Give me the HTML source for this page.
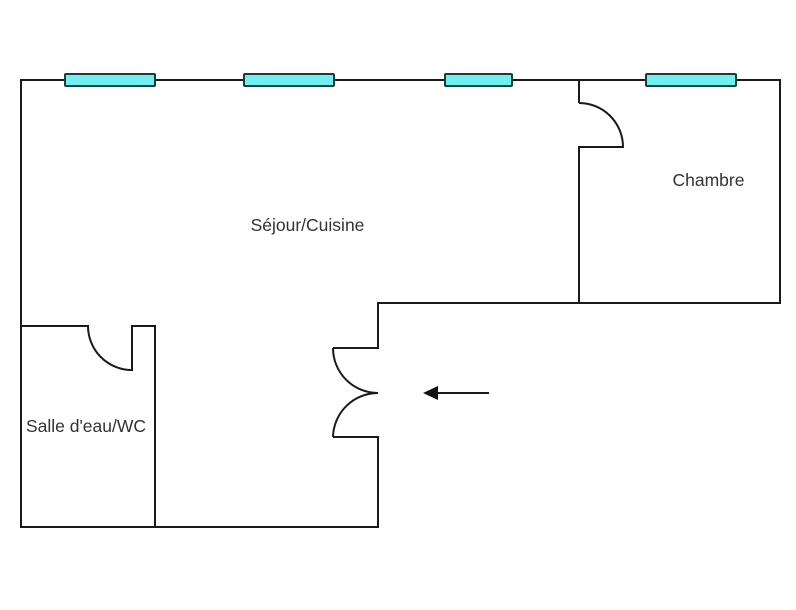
<!DOCTYPE html>
<html><head><meta charset="utf-8"><style>
html,body{margin:0;padding:0;background:#fff;}
svg{display:block;}
text{font-family:"Liberation Sans",Arial,sans-serif;font-size:17.5px;fill:#333;}
</style></head><body>
<svg width="796" height="610" viewBox="0 0 796 610" xmlns="http://www.w3.org/2000/svg">
<g fill="none" stroke="#1a1a1a" stroke-width="2" stroke-linejoin="miter">
<!-- outer top/left/bottom -->
<path d="M579,80 L21,80 L21,527 L378,527 L378,437 L333,437"/>
<path d="M333,348 L378,348 L378,303 L780,303 L780,80 L579,80 L579,103"/>
<!-- chambre door -->
<path d="M579,103 A44,44 0 0 1 623,147 L579,147 L579,303"/>
<!-- entry door arcs -->
<path d="M333,348 A45,45 0 0 0 378,393"/>
<path d="M378,393 A45,45 0 0 0 333,437"/>
<!-- salle d'eau -->
<path d="M21,326 L88,326 A44,44 0 0 0 132,370 L132,326 L155,326 L155,527"/>
<!-- arrow line -->
<path d="M489,393 L436,393"/>
</g>
<polygon points="423,393 438,386 438,400" fill="#111"/>
<g fill="#6ff0f0" stroke="#1e3b3b" stroke-width="2">
<rect x="65" y="74" width="90" height="12" rx="1"/>
<rect x="244" y="74" width="90" height="12" rx="1"/>
<rect x="445" y="74" width="67" height="12" rx="1"/>
<rect x="646" y="74" width="90" height="12" rx="1"/>
</g>
<text x="307.5" y="231" text-anchor="middle">Séjour/Cuisine</text>
<text x="708.5" y="186" text-anchor="middle">Chambre</text>
<text x="86" y="432" text-anchor="middle">Salle d'eau/WC</text>
</svg>
</body></html>
